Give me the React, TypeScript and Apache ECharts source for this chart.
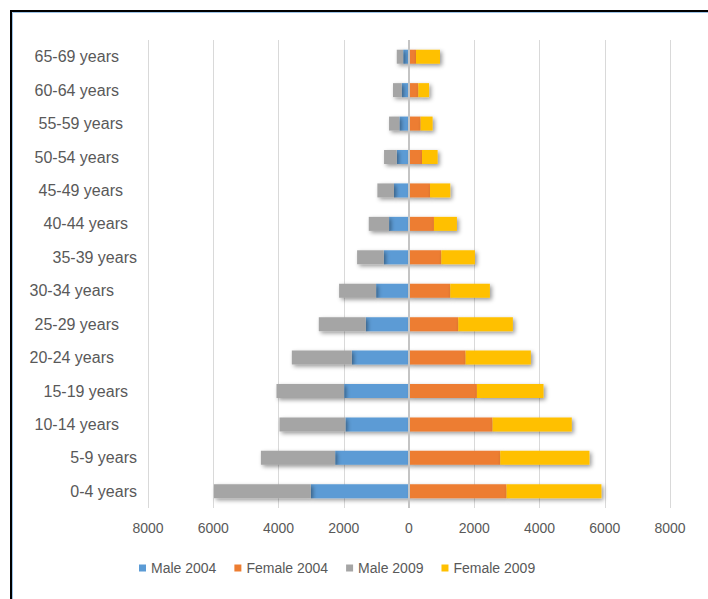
import React, { useEffect, useRef } from "react";
import * as echarts from "echarts";

const categories = [
  "0-4 years", "5-9 years", "10-14 years", "15-19 years", "20-24 years",
  "25-29 years", "30-34 years", "35-39 years", "40-44 years", "45-49 years",
  "50-54 years", "55-59 years", "60-64 years", "65-69 years",
];
const male2004 = [3010, 2265, 1950, 1990, 1755, 1326, 1010, 775, 612, 460, 377, 295, 225, 180];
const female2004 = [2990, 2796, 2562, 2082, 1735, 1510, 1265, 990, 765, 643, 398, 357, 285, 215];
const male2009 = [2970, 2275, 2021, 2072, 1837, 1439, 1133, 816, 622, 510, 388, 317, 265, 195];
const female2009 = [2908, 2735, 2428, 2041, 2000, 1674, 1215, 1031, 704, 622, 480, 367, 330, 735];
const tickValues = [-8000, -6000, -4000, -2000, 0, 2000, 4000, 6000, 8000];

// label alignment offsets (styling only)
const labelPadRight = [0, 0, 18, 9, 23, 18, 23, 0, 9, 14, 18, 14, 18, 18];

const FONT = "'Liberation Sans', Arial, sans-serif";
const TEXT = "#595959";

export default function App() {
  const ref = useRef<HTMLDivElement>(null);
  useEffect(() => {
    if (!ref.current) return;
    const chart = echarts.init(ref.current, null, { renderer: "svg" });
    const shadow = {
      shadowColor: "rgba(0,0,0,0.4)",
      shadowBlur: 4,
      shadowOffsetX: 2,
      shadowOffsetY: 2,
    };
    const mk = (name: string, data: number[], color: string, neg: boolean, extra: any = {}) => ({
      name,
      type: "bar",
      stack: "total",
      barWidth: 14,
      data: data.map((v) => (neg ? -v : v)),
      itemStyle: { color, ...shadow },
      ...extra,
    });
    chart.setOption({
      animation: false,
      textStyle: { fontFamily: FONT },
      graphic: [
        {
          type: "rect",
          shape: { x: 11, y: 11, width: 800, height: 700 },
          style: { fill: "none", stroke: "#000", lineWidth: 2 },
          silent: true,
        },
        {
          type: "rect",
          shape: { x: 12.5, y: 12.5, width: 800, height: 700 },
          style: { fill: "none", stroke: "#9dc3e6", lineWidth: 1 },
          silent: true,
        },
      ],
      grid: { left: 148, right: 38, top: 40, bottom: 91, containLabel: false },
      legend: {
        left: 134,
        top: 556,
        itemWidth: 7,
        itemHeight: 7,
        itemGap: 18,
        icon: "rect",
        textStyle: { fontSize: 14, color: TEXT, fontFamily: FONT },
        data: ["Male 2004", "Female 2004", "Male 2009", "Female 2009"],
      },
      xAxis: {
        type: "value",
        min: tickValues[0],
        max: tickValues[tickValues.length - 1],
        interval: 2000,
        axisLine: { show: false },
        axisTick: { show: false },
        splitLine: { lineStyle: { color: "#d9d9d9", width: 1 } },
        axisLabel: {
          formatter: (v: number) => String(Math.abs(v)),
          color: TEXT,
          fontSize: 14,
          margin: 13,
          fontFamily: FONT,
        },
      },
      yAxis: {
        type: "category",
        data: categories.map((c, i) => ({
          value: c,
          textStyle: { padding: [0, labelPadRight[i], 0, 0] },
        })),
        axisLine: { show: false, onZero: false },
        axisTick: { show: false },
        axisLabel: { color: TEXT, fontSize: 16, margin: 11, fontFamily: FONT },
      },
      series: [
        mk("Male 2004", male2004, "#5B9BD5", true, {
          markLine: {
            silent: true,
            symbol: "none",
            label: { show: false },
            lineStyle: { color: "#c4c4c4", width: 2, type: "solid" },
            data: [{ xAxis: 0 }],
          },
        }),
        mk("Female 2004", female2004, "#ED7D31", false),
        mk("Male 2009", male2009, "#A5A5A5", true),
        mk("Female 2009", female2009, "#FFC000", false),
      ],
    });
    return () => chart.dispose();
  }, []);
  return (
    <div
      ref={ref}
      style={{ position: "fixed", left: 0, top: 0, width: 708, height: 599, background: "#fff" }}
    />
  );
}
